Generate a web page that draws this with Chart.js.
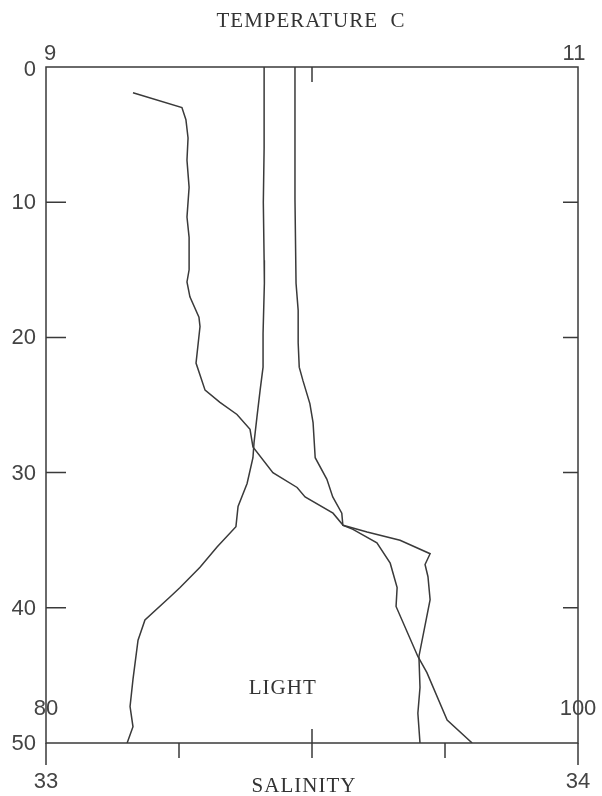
<!DOCTYPE html>
<html>
<head>
<meta charset="utf-8">
<script src="https://cdn.jsdelivr.net/npm/chart.js@4.4.1/dist/chart.umd.min.js"></script>
<style>
  html, body { margin: 0; padding: 0; background: #fff; }
  #wrap { position: relative; width: 602px; height: 796px; }
</style>
</head>
<body>
<div id="wrap"><canvas id="profile"></canvas></div>
<script>
// depth profile, three traces on one depth axis
const depthTicks = [0, 10, 20, 30, 40, 50];
const tempTicks = [9, 11];
const salTicks = [33, 34];
const lightTicks = [80, 100];

const tempDepth = [0, 6, 10, 14.3, 16, 19.7, 22.2, 23.9, 25.9, 27.8, 28.9, 30.8, 32.5, 34.0, 35.5, 37.0, 38.5, 39.2, 40.9, 42.4, 45.3, 47.3, 48.8, 50];
const tempValues = [9.82, 9.82, 9.817, 9.82, 9.821, 9.816, 9.816, 9.805, 9.793, 9.782, 9.778, 9.756, 9.722, 9.714, 9.643, 9.579, 9.504, 9.466, 9.372, 9.346, 9.327, 9.316, 9.327, 9.305];

const salDepth = [0, 9.8, 16.0, 18.0, 20.4, 22.2, 23.2, 24.9, 26.3, 28.9, 30.5, 31.8, 33.0, 33.9, 34.2, 35.2, 36.7, 38.5, 39.9, 43.6, 44.8, 48.3, 50];
const salValues = [33.468, 33.468, 33.470, 33.474, 33.474, 33.476, 33.483, 33.496, 33.502, 33.506, 33.528, 33.539, 33.556, 33.558, 33.577, 33.622, 33.647, 33.660, 33.658, 33.699, 33.716, 33.754, 33.801];

const lightDepth = [1.9, 3.0, 3.9, 5.25, 6.9, 8.9, 11.1, 12.6, 15.0, 15.9, 17.0, 18.5, 19.2, 21.9, 23.9, 24.8, 25.7, 26.8, 28.1, 30.0, 31.1, 31.8, 33.0, 33.9, 34.4, 35.0, 36.0, 36.8, 37.7, 39.4, 43.6, 45.9, 47.8, 50];
const lightValues = [83.27, 85.11, 85.26, 85.34, 85.30, 85.38, 85.30, 85.38, 85.38, 85.30, 85.41, 85.75, 85.79, 85.64, 85.98, 86.54, 87.18, 87.67, 87.78, 88.53, 89.44, 89.74, 90.79, 91.17, 92.07, 93.31, 94.44, 94.25, 94.36, 94.44, 94.02, 94.06, 93.98, 94.06];

const ink = "#3a3a3a";

const toPoints = (depths, values) => depths.map((d, i) => ({ x: values[i], y: d }));

const lineStyle = {
  showLine: true,
  borderColor: ink,
  borderWidth: 1.5,
  pointRadius: 0,
  tension: 0,
  fill: false,
};

// frame, ticks and all labels drawn from the scales
const framePlugin = {
  id: "frame",
  afterDraw(chart) {
    const ctx = chart.ctx;
    const { left, right, top, bottom } = chart.chartArea;
    const y = chart.scales.y;
    const xt = chart.scales.xTemp;
    const xs = chart.scales.xSal;
    const xl = chart.scales.xLight;

    ctx.save();
    ctx.strokeStyle = ink;
    ctx.lineWidth = 1.5;
    ctx.strokeRect(left, top, right - left, bottom - top);

    ctx.beginPath();
    // depth ticks, inward on both sides
    depthTicks.slice(1, -1).forEach((d) => {
      const py = y.getPixelForValue(d);
      ctx.moveTo(left, py);
      ctx.lineTo(left + 20, py);
      ctx.moveTo(right, py);
      ctx.lineTo(right - 15, py);
    });
    // temperature mid tick
    const tMid = xt.getPixelForValue(10);
    ctx.moveTo(tMid, top);
    ctx.lineTo(tMid, top + 15);
    // salinity ticks, outward
    [33, 34].forEach((v) => {
      const px = xs.getPixelForValue(v);
      ctx.moveTo(px, bottom);
      ctx.lineTo(px, bottom + 22);
    });
    [33.25, 33.5, 33.75].forEach((v) => {
      const px = xs.getPixelForValue(v);
      ctx.moveTo(px, bottom);
      ctx.lineTo(px, bottom + 15);
    });
    // light mid tick, inward
    const lMid = xl.getPixelForValue(90);
    ctx.moveTo(lMid, bottom);
    ctx.lineTo(lMid, bottom - 14);
    ctx.stroke();

    ctx.fillStyle = "#444";
    ctx.font = "22px 'Liberation Sans', sans-serif";
    ctx.textBaseline = "middle";

    ctx.textAlign = "right";
    depthTicks.forEach((d) => {
      const py = y.getPixelForValue(d);
      ctx.fillText(String(d), left - 10, d === 0 ? py + 3 : py + 1);
    });

    ctx.textAlign = "center";
    tempTicks.forEach((v, i) => {
      ctx.fillText(String(v), xt.getPixelForValue(v) + (i === 0 ? 4 : -4), top - 13);
    });
    lightTicks.forEach((v) => {
      ctx.fillText(String(v), xl.getPixelForValue(v), bottom - 34);
    });
    salTicks.forEach((v) => {
      ctx.fillText(String(v), xs.getPixelForValue(v), bottom + 39);
    });

    ctx.font = "21px 'Liberation Serif', serif";
    ctx.letterSpacing = "1px";
    ctx.fillStyle = "#333";
    ctx.fillText("TEMPERATURE  C", 311, 21);
    ctx.fillText("SALINITY", 304, 786);
    ctx.fillText("LIGHT", xl.getPixelForValue(88.9), bottom - 55);
    ctx.restore();
  },
};

new Chart(document.getElementById("profile"), {
  type: "scatter",
  data: {
    datasets: [
      { label: "Temperature", data: toPoints(tempDepth, tempValues), xAxisID: "xTemp", ...lineStyle },
      { label: "Salinity", data: toPoints(salDepth, salValues), xAxisID: "xSal", ...lineStyle },
      { label: "Light", data: toPoints(lightDepth, lightValues), xAxisID: "xLight", ...lineStyle },
    ],
  },
  options: {
    responsive: true,
    maintainAspectRatio: false,
    animation: false,
    layout: { padding: { left: 46, right: 24, top: 67, bottom: 53 } },
    plugins: { legend: { display: false }, tooltip: { enabled: false } },
    scales: {
      y: { type: "linear", min: 0, max: 50, reverse: true, display: false },
      xTemp: { type: "linear", axis: "x", min: 9, max: 11, display: false },
      xSal: { type: "linear", axis: "x", min: 33, max: 34, display: false },
      xLight: { type: "linear", axis: "x", min: 80, max: 100, display: false },
    },
  },
  plugins: [framePlugin],
});
</script>
</body>
</html>
